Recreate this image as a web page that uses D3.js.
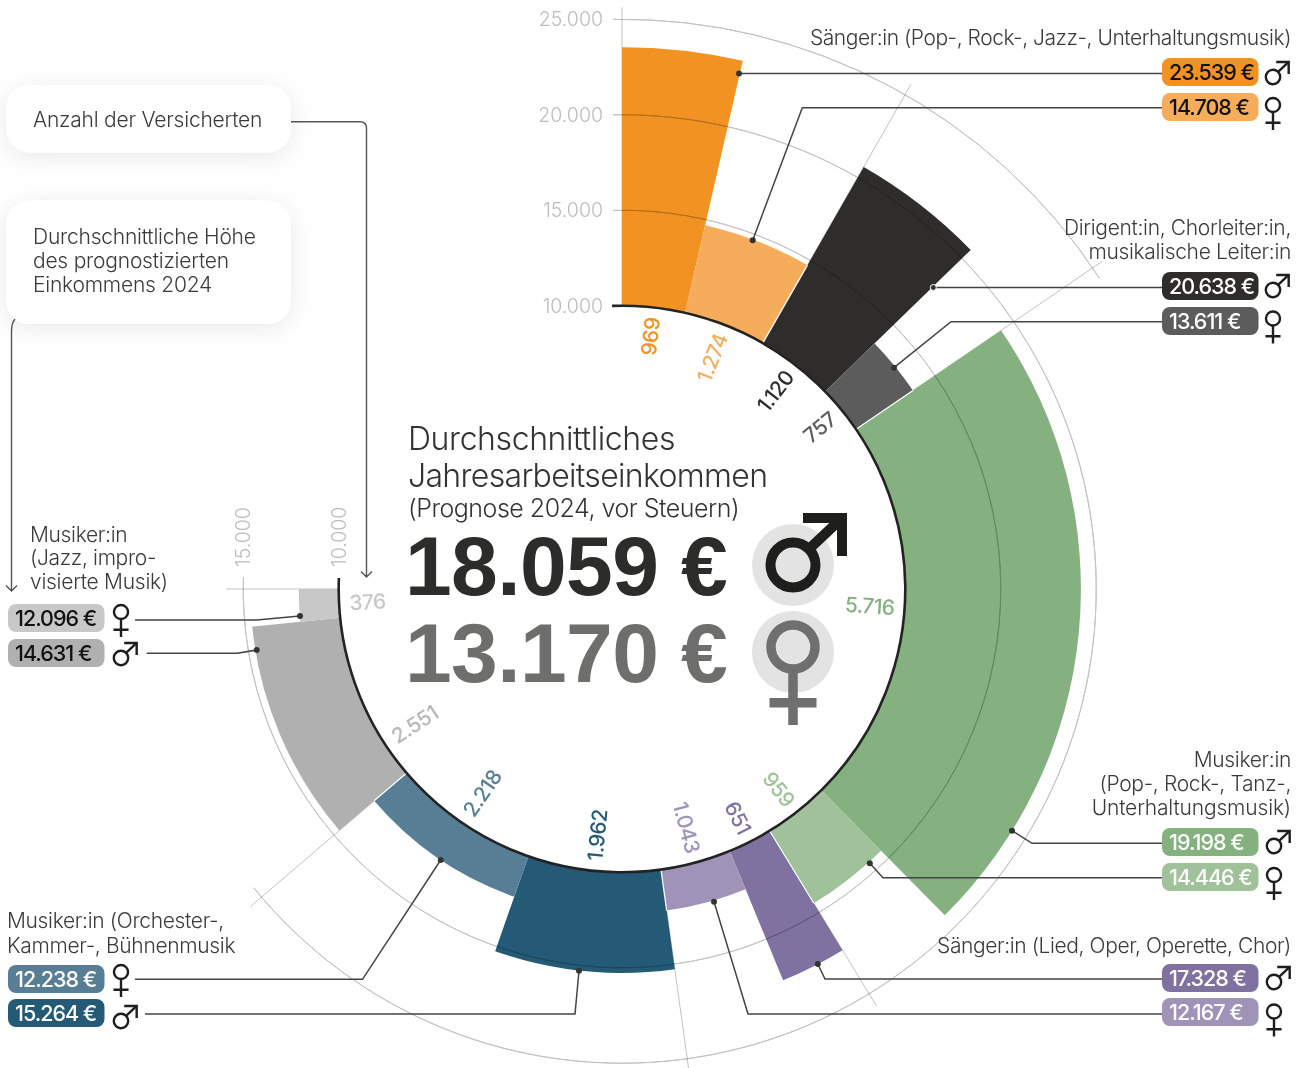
<!DOCTYPE html>
<html lang="de">
<head>
<meta charset="utf-8">
<script src="https://cdn.jsdelivr.net/npm/d3@7"></script>
<style>
    body { margin: 0; background: #fff; }
    svg { display: block; font-family: Inter, "Liberation Sans", sans-serif; }
    .grid { fill: none; stroke: #c2c2c2; stroke-width: 1; }
    .grid.over { mix-blend-mode: multiply; }
    .leader { fill: none; stroke: #444; stroke-width: 1.5; }
    .note { fill: #3a3a3a; font-size: 21px; font-weight: 300; letter-spacing: -0.33px; }
    .tick { fill: #bcbcbc; font-size: 19.5px; font-weight: 300; }
    .big { font-family: "Liberation Sans", sans-serif; font-size: 84px; font-weight: 700; letter-spacing: -0.6px; }
</style>
</head>
<body>
<svg id="chart" width="1304" height="1068"></svg>
<script>
    // values
    const categories = ["Sänger:in Pop", "Dirigent:in", "Musiker:in Pop", "Sänger:in Klassik", "Musiker:in Orchester", "Musiker:in Jazz"];
    const countMale = [969, 1120, 5716, 651, 1962, 2551];
    const countFemale = [1274, 757, 959, 1043, 2218, 376];
    const incomeMale = [23539, 20638, 19198, 17328, 15264, 14631];
    const incomeFemale = [14708, 13611, 14446, 12167, 12238, 12096];
    const radiusTicks = [10000, 15000, 20000, 25000];
    const totalMale = 18059;
    const totalFemale = 13170;

    const colorMale = ["#f29222", "#2e2d2c", "#85b180", "#7f71a0", "#245a76", "#b0b0b0"];
    const colorFemale = ["#f5ad5c", "#5d5c5c", "#a1c19b", "#a093b8", "#577e94", "#c8c8c8"];
    const pillInkMale = ["#111", "#fff", "#fff", "#fff", "#fff", "#111"];
    const pillInkFemale = ["#111", "#fff", "#fff", "#fff", "#fff", "#111"];

    // annotation layout
    const categoryLabels = [
        { x: 1291, anchor: "end", lines: [["Sänger:in (Pop-, Rock-, Jazz-, Unterhaltungsmusik)", 45, -0.46]] },
        { x: 1291, anchor: "end", lines: [["Dirigent:in, Chorleiter:in,", 235], ["musikalische Leiter:in", 259]] },
        { x: 1291, anchor: "end", lines: [["Musiker:in", 767], ["(Pop-, Rock-, Tanz-,", 791], ["Unterhaltungsmusik)", 815, -0.16]] },
        { x: 1291, anchor: "end", lines: [["Sänger:in (Lied, Oper, Operette, Chor)", 953, -0.4]] },
        { x: 7, anchor: "start", lines: [["Musiker:in (Orchester-,", 928], ["Kammer-, Bühnenmusik", 953]] },
        { x: 30, anchor: "start", lines: [["Musiker:in", 542], ["(Jazz, impro-", 565], ["visierte Musik)", 589, -0.27]] }
    ];
    const pills = [
        { x: 1162, male: 58, female: 93, iconX: 1273, maleDy: 19, femaleDy: 12 },
        { x: 1162, male: 272, female: 307, iconX: 1273, maleDy: 18, femaleDy: 11.5 },
        { x: 1162, male: 828, female: 863, iconX: 1274, maleDy: 18, femaleDy: 12 },
        { x: 1162, male: 964, female: 998, iconX: 1274, maleDy: 18, femaleDy: 13.5 },
        { x: 8, male: 999, female: 965, iconX: 121, maleDy: 22, femaleDy: 7 },
        { x: 8, male: 639, female: 604, iconX: 121, maleDy: 19, femaleDy: 8 }
    ];
    const leaders = [
        [[739, 73.5], [1162, 73.5]],
        [[752.7, 240.3], [802.3, 107.7], [1162, 107.7]],
        [[933.3, 287.5], [1162, 287.5]],
        [[894, 367.7], [951, 321.7], [1162, 321.7]],
        [[1012, 830.7], [1032, 843.3], [1162, 843.3]],
        [[869.8, 863.3], [883, 877.7], [1162, 877.7]],
        [[817.8, 964], [825, 979], [1162, 979]],
        [[714, 901.7], [748, 1014], [1162, 1014]],
        [[579, 970.7], [575, 1014], [145, 1014]],
        [[440.7, 860], [362.5, 979.3], [135, 979.3]],
        [[300, 616], [256.7, 620], [135, 620]],
        [[256.7, 650], [237.3, 653.3], [146.7, 653.3]]
    ];

    const svg = d3.select("svg#chart");
    const cx = 622;
    const cy = 589;
    const de = d3.formatLocale({ decimal: ",", thousands: ".", grouping: [3], currency: ["", " €"] });
    const fmt = de.format(",");
    const total = d3.sum(countMale) + d3.sum(countFemale);
    const rad = Math.PI / 180;

    // ring is 270 degrees, slightly calibrated to the drawn segments
    const angle = d3.scaleLinear()
        .domain([0, 2243, 3363, 4120, 9836, 14451, 19220, total])
        .range([0, 29.8, 45.8, 55.7, 135.3, 199.3, 264.2, 270].map(d => d * rad));
    const radius = d3.scaleLinear().domain([10000, 25000]).range([283.3, 569.7]);

    const defs = svg.append("defs");
    const shadow = defs.append("filter").attr("id", "soft")
        .attr("x", "-20%").attr("y", "-30%").attr("width", "140%").attr("height", "170%");
    shadow.append("feDropShadow").attr("dx", 0).attr("dy", 4).attr("stdDeviation", 12)
        .attr("flood-color", "#000").attr("flood-opacity", 0.09);

    const chart = svg.append("g").attr("transform", `translate(${cx},${cy})`);

    // segments in drawing order, male first inside each category
    let running = 0;
    const segments = [];
    categories.forEach((c, i) => {
        [["male", countMale[i], incomeMale[i], colorMale[i]],
         ["female", countFemale[i], incomeFemale[i], colorFemale[i]]].forEach(s => {
            segments.push({ cat: i, sex: s[0], count: s[1], income: s[2], color: s[3], from: running, to: running + s[1] });
            running += s[1];
        });
    });

    const polar = (a, r) => [Math.sin(a) * r, -Math.cos(a) * r];
    const boundaries = categories.map((c, i) => d3.sum(countMale.slice(0, i)) + d3.sum(countFemale.slice(0, i)));
    boundaries.push(total);

    // radial gridlines, each one runs a little past the highest arc it belongs to
    const radialTop = [25000, 25000, 25000, 20000, 20000, 20000, 15000];
    const radialExtra = [12, 12, 12, 14, 14, 14, 17];
    chart.selectAll("line.radial").data(boundaries).join("line")
        .attr("class", "grid radial")
        .attr("x1", d => polar(angle(d), radius(10000))[0])
        .attr("y1", d => polar(angle(d), radius(10000))[1])
        .attr("x2", (d, i) => polar(angle(d), radius(radialTop[i]) + radialExtra[i])[0])
        .attr("y2", (d, i) => polar(angle(d), radius(radialTop[i]) + radialExtra[i])[1]);

    const arc = d3.arc();
    chart.selectAll("path.bar").data(segments).join("path")
        .attr("class", "bar")
        .attr("fill", d => d.color)
        .attr("d", d => arc({
            innerRadius: radius(10000),
            outerRadius: radius(d.income),
            startAngle: angle(d.from),
            endAngle: angle(d.to)
        }));

    // white hairline between neighbouring categories
    chart.selectAll("line.sep").data(boundaries.slice(1, -1)).join("line")
        .attr("class", "sep")
        .attr("stroke", "#fff").attr("stroke-width", 1.2)
        .attr("x1", d => polar(angle(d), radius(10000))[0])
        .attr("y1", d => polar(angle(d), radius(10000))[1])
        .attr("x2", (d, i) => polar(angle(d), radius(Math.min(incomeFemale[i], incomeMale[i + 1])))[0])
        .attr("y2", (d, i) => polar(angle(d), radius(Math.min(incomeFemale[i], incomeMale[i + 1])))[1]);

    // arcs for the tick values, they stop a few pixels behind the last radial
    const gridEnd = [total, boundaries[5], boundaries[2]];
    [15000, 20000, 25000].forEach((v, i) => {
        const r = radius(v);
        chart.append("path").attr("class", "grid over")
            .attr("d", arc({ innerRadius: r, outerRadius: r, startAngle: -9 / r, endAngle: angle(gridEnd[i]) + 12 / r }));
    });
    const r0 = radius(10000);
    chart.append("path").attr("fill", "none").attr("stroke", "#232323").attr("stroke-width", 2.6)
        .attr("d", arc({ innerRadius: r0, outerRadius: r0, startAngle: -10 / r0, endAngle: angle(total) + 11 / r0 }));

    // tick labels on the two ends of the ring
    chart.selectAll("text.tickTop").data(radiusTicks).join("text")
        .attr("class", "tick tickTop")
        .attr("text-anchor", "end")
        .attr("x", -19)
        .attr("y", d => -radius(d) + 7)
        .text(d => fmt(d));
    chart.selectAll("text.tickLeft").data(radiusTicks.slice(0, 2)).join("text")
        .attr("class", "tick tickLeft")
        .attr("transform", d => `translate(${-radius(d) + 7},-22) rotate(-90)`)
        .text(d => fmt(d));

    // insured counts along the inside of the ring
    const labelShift = { 2551: -10, 5716: -1.6 };
    chart.selectAll("text.count").data(segments).join("text")
        .attr("class", "count")
        .attr("fill", d => d.count === 376 ? "#c8c8c8" : d.count === 2551 ? "#b8b8b8" : d.color)
        .attr("font-size", 21)
        .attr("font-weight", 500)
        .attr("letter-spacing", -0.6)
        .attr("dominant-baseline", "central")
        .attr("text-anchor", d => (angle(d.from) + angle(d.to)) / 2 > Math.PI ? "start" : "end")
        .attr("transform", d => {
            const deg = (angle(d.from) + angle(d.to)) / 2 / rad + (labelShift[d.count] || 0);
            const p = polar(deg * rad, 273);
            return `translate(${p[0]},${p[1]}) rotate(${deg > 180 ? deg + 90 : deg - 90})`;
        })
        .text(d => fmt(d.count));

    // category names
    categoryLabels.forEach(l => {
        svg.append("g").selectAll("text").data(l.lines).join("text")
            .attr("class", "note")
            .attr("x", l.x)
            .attr("y", d => d[1])
            .attr("text-anchor", l.anchor)
            .style("letter-spacing", d => d[2] === undefined ? null : `${d[2]}px`)
            .text(d => d[0]);
    });

    // leader lines with their dots
    const line = d3.line();
    svg.selectAll("path.leader").data(leaders).join("path")
        .attr("class", "leader")
        .attr("d", d => line(d));
    svg.selectAll("circle.dot").data(leaders).join("circle")
        .attr("class", "dot")
        .attr("cx", d => d[0][0])
        .attr("cy", d => d[0][1])
        .attr("r", 3)
        .attr("fill", "#333")
        .attr("stroke", (d, i) => i === 2 ? "#fff" : "none")
        .attr("stroke-width", 1);

    function maleIcon(x, y, s, sw, color) {
        const g = svg.append("g").attr("transform", `translate(${x},${y})`)
            .attr("fill", "none").attr("stroke", color).attr("stroke-width", sw);
        g.append("circle").attr("r", 22.5 * s);
        g.append("path").attr("d", `M${15 * s},${-15 * s}L${49 * s},${-47 * s}`);
        g.append("path").attr("d", `M${10 * s},${-47 * s}H${49 * s}V${-9 * s}`);
    }

    function femaleIcon(x, y, s, sw, color) {
        const g = svg.append("g").attr("transform", `translate(${x},${y})`)
            .attr("fill", "none").attr("stroke", color).attr("stroke-width", sw);
        g.append("circle").attr("r", 22 * s);
        g.append("path").attr("d", `M0,${22 * s}V${78 * s}M${-23.5 * s},${55.7 * s}H${23.5 * s}`);
    }

    // value pills
    pills.forEach((p, i) => {
        [["male", incomeMale[i], colorMale[i], pillInkMale[i]],
         ["female", incomeFemale[i], colorFemale[i], pillInkFemale[i]]].forEach(s => {
            const top = p[s[0]];
            svg.append("rect").attr("x", p.x).attr("y", top).attr("width", 96.5).attr("height", 28)
                .attr("rx", 8).attr("fill", s[2]);
            svg.append("text").attr("x", p.x + 7).attr("y", top + 21.5)
                .attr("font-size", 21.5).attr("font-weight", 500).attr("letter-spacing", -1)
                .attr("fill", s[3]).text(`${fmt(s[1])} €`);
            if (s[0] === "male") maleIcon(p.iconX, top + p.maleDy, 0.32, 2.4, "#1e1e1d");
            else femaleIcon(p.iconX, top + p.femaleDy, 0.32, 2.4, "#1e1e1d");
        });
    });

    // centre headline
    const headline = svg.append("g").attr("fill", "#333").attr("font-weight", 300);
    headline.append("text").attr("x", 408).attr("y", 450).attr("font-size", 32).attr("letter-spacing", -0.4).text("Durchschnittliches");
    headline.append("text").attr("x", 408).attr("y", 487).attr("font-size", 32).attr("letter-spacing", -0.68).text("Jahresarbeitseinkommen");
    headline.append("text").attr("x", 408).attr("y", 517).attr("font-size", 25).attr("letter-spacing", -0.5).text("(Prognose 2024, vor Steuern)");
    svg.append("text").attr("class", "big").attr("x", 405).attr("y", 595).attr("fill", "#2c2c2b").text(`${fmt(totalMale)} €`);
    svg.append("text").attr("class", "big").attr("x", 405).attr("y", 682).attr("fill", "#6e6e6d").text(`${fmt(totalFemale)} €`);
    svg.append("circle").attr("cx", 793).attr("cy", 565).attr("r", 41).attr("fill", "#e3e3e3");
    svg.append("circle").attr("cx", 793).attr("cy", 652).attr("r", 41).attr("fill", "#e3e3e3");
    maleIcon(793, 565, 1, 10, "#1e1e1d");
    femaleIcon(793, 647, 1, 9.5, "#6f6f6f");

    // legend boxes and their arrows
    const arrows = svg.append("g").attr("fill", "none").attr("stroke", "#555").attr("stroke-width", 1.4);
    arrows.append("path").attr("d", "M291,121.7H360Q366.5,121.7 366.5,128V577M361,571.5L366.5,577L372,571.5");
    arrows.append("path").attr("d", "M15,319Q11.5,323 11.5,332V591M6,585.5L11.5,591L17,585.5");

    const boxes = [
        { y: 85, h: 67.5, lines: [["Anzahl der Versicherten", 127]] },
        { y: 200.7, h: 123.3, lines: [["Durchschnittliche Höhe", 244], ["des prognostizierten", 268], ["Einkommens 2024", 292]] }
    ];
    boxes.forEach(b => {
        svg.append("rect").attr("x", 6).attr("y", b.y).attr("width", 285).attr("height", b.h)
            .attr("rx", 24).attr("fill", "#fff").attr("filter", "url(#soft)");
        svg.append("g").selectAll("text").data(b.lines).join("text")
            .attr("class", "note").attr("x", 33).attr("y", d => d[1])
            .style("letter-spacing", "-0.22px").text(d => d[0]);
    });
</script>
</body>
</html>
